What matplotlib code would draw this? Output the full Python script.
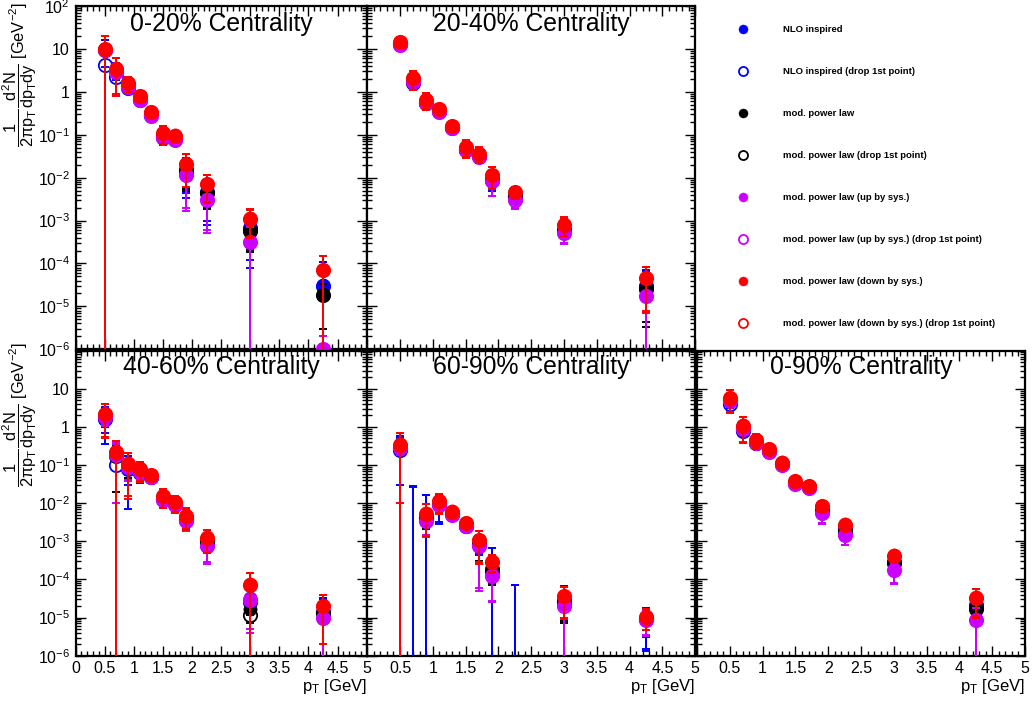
import numpy as np
import matplotlib
matplotlib.use('Agg')
import matplotlib.pyplot as plt
from matplotlib.ticker import MultipleLocator, LogLocator, FixedLocator, FixedFormatter, NullFormatter

plt.rcParams['font.family'] = ['Liberation Sans', 'DejaVu Sans']
plt.rcParams['mathtext.fontset'] = 'custom'
plt.rcParams['mathtext.rm'] = 'Liberation Sans'
plt.rcParams['mathtext.it'] = 'Liberation Sans'
plt.rcParams['mathtext.sf'] = 'Liberation Sans'
plt.rcParams['mathtext.bf'] = 'Liberation Sans:bold'

# pT bin centres [GeV]
pt = [0.5, 0.7, 0.9, 1.1, 1.3, 1.5, 1.7, 1.9, 2.25, 3.0, 4.25]

labels = ['NLO inspired', 'NLO inspired (drop 1st point)',
          'mod. power law', 'mod. power law (drop 1st point)',
          'mod. power law (up by sys.)', 'mod. power law (up by sys.) (drop 1st point)',
          'mod. power law (down by sys.)', 'mod. power law (down by sys.) (drop 1st point)']

nan = float('nan')

# ---- 0-20% ----
nlo_0020 = [9.8, 3.3, 1.5, 0.72, 0.31, 0.10, 0.088, 0.0165, 0.0048, 7.2e-4, 3.1e-5]
nlo_drop_0020 = [4.3, 2.2, 1.24, 0.66, 0.29, 0.088, 0.080, 0.0154, 0.0046, 6.8e-4, 3.0e-5]
pow_0020 = [9.6, 3.2, 1.45, 0.70, 0.30, 0.095, 0.085, 0.0150, 0.0045, 5.9e-4, 1.8e-5]
pow_drop_0020 = [9.5, 3.1, 1.40, 0.68, 0.29, 0.090, 0.082, 0.0145, 0.0044, 5.7e-4, 1.8e-5]
up_0020 = [9.4, 3.0, 1.35, 0.66, 0.28, 0.085, 0.078, 0.0118, 0.0031, 3.2e-4, 1.0e-6]
up_drop_0020 = [9.3, 2.9, 1.32, 0.65, 0.28, 0.084, 0.077, 0.0115, 0.0030, 3.1e-4, 1.0e-6]
down_0020 = [10.0, 3.5, 1.6, 0.79, 0.34, 0.11, 0.096, 0.021, 0.0072, 1.12e-3, 7.0e-5]
down_drop_0020 = [9.9, 3.4, 1.58, 0.78, 0.34, 0.11, 0.095, 0.021, 0.0071, 1.10e-3, 6.9e-5]
err_nlo_0020 = [6.0, 1.4, 0.3, 0.12, 0.05, 0.03, 0.015, 0.012, 0.0038, 6e-4, 8e-5]
err_pow_0020 = [2.0, 0.8, 0.3, 0.12, 0.05, 0.02, 0.012, 0.0097, 0.0025, 3.8e-4, 1.5e-5]
err_up_0020 = [2.0, 0.8, 0.3, 0.12, 0.05, 0.02, 0.012, 0.0098, 0.0025, 4e-4, 1e-6]
err_down_0020 = [10.1, 2.6, 0.6, 0.2, 0.1, 0.05, 0.025, 0.015, 0.0045, 7e-4, 8e-5]

# ---- 20-40% ----
nlo_2040 = [13.5, 1.9, 0.60, 0.36, 0.150, 0.047, 0.033, 0.0098, 0.0039, 6.3e-4, 3.1e-5]
nlo_drop_2040 = [12.7, 1.6, 0.55, 0.35, 0.148, 0.045, 0.032, 0.0090, 0.0037, 6.1e-4, 3.0e-5]
pow_2040 = [13.0, 1.8, 0.58, 0.35, 0.148, 0.046, 0.032, 0.0092, 0.0036, 5.9e-4, 2.7e-5]
pow_drop_2040 = [12.8, 1.7, 0.56, 0.35, 0.147, 0.045, 0.032, 0.0090, 0.0035, 5.8e-4, 2.6e-5]
up_2040 = [12.5, 1.75, 0.56, 0.34, 0.145, 0.044, 0.031, 0.0085, 0.0031, 5.1e-4, 1.7e-5]
up_drop_2040 = [12.4, 1.7, 0.55, 0.34, 0.144, 0.044, 0.031, 0.0084, 0.0030, 5.0e-4, 1.7e-5]
down_2040 = [14.6, 2.08, 0.66, 0.39, 0.164, 0.052, 0.0365, 0.0118, 0.0047, 8.1e-4, 4.6e-5]
down_drop_2040 = [14.4, 2.05, 0.65, 0.39, 0.163, 0.051, 0.036, 0.0116, 0.0046, 8.0e-4, 4.5e-5]
err_nlo_2040 = [2.0, 0.3, 0.08, 0.05, 0.02, 0.012, 0.006, 0.004, 0.001, 1.2e-4, 3.8e-5]
err_pow_2040 = [2.0, 0.3, 0.08, 0.05, 0.02, 0.008, 0.005, 0.0035, 0.0009, 1.2e-4, 2.27e-5]
err_up_2040 = [2.0, 0.3, 0.08, 0.05, 0.02, 0.008, 0.005, 0.0047, 0.0011, 2.1e-4, 2.0e-5]
err_down_2040 = [2.5, 0.95, 0.27, 0.08, 0.03, 0.022, 0.014, 0.0063, 0.0015, 3.7e-4, 3.8e-5]

# ---- 40-60% ----
nlo_4060 = [2.0, 0.20, 0.10, 0.070, 0.052, 0.0135, 0.0098, 0.0040, 0.00105, 3.2e-5, 1.5e-5]
nlo_drop_4060 = [1.65, 0.10, 0.077, 0.063, 0.050, 0.0127, 0.0094, 0.0038, 0.0010, 2.6e-5, 1.4e-5]
pow_4060 = [1.9, 0.19, 0.095, 0.068, 0.050, 0.013, 0.0095, 0.0037, 0.00095, 1.7e-5, 1.3e-5]
pow_drop_4060 = [1.8, 0.17, 0.090, 0.066, 0.050, 0.0128, 0.0093, 0.0036, 0.00093, 1.2e-5, 1.3e-5]
up_4060 = [1.9, 0.19, 0.090, 0.065, 0.049, 0.0125, 0.0090, 0.0035, 7.6e-4, 3.0e-5, 1.0e-5]
up_drop_4060 = [1.85, 0.18, 0.088, 0.064, 0.048, 0.0123, 0.0089, 0.0034, 7.4e-4, 2.9e-5, 1.0e-5]
down_4060 = [2.23, 0.218, 0.11, 0.080, 0.055, 0.0155, 0.0108, 0.0047, 0.00127, 7.4e-5, 2.0e-5]
down_drop_4060 = [2.2, 0.215, 0.108, 0.079, 0.054, 0.0153, 0.0107, 0.0046, 0.00125, 7.3e-5, 2.0e-5]
err_nlo_4060 = [1.3, 0.22, 0.07, 0.03, 0.01, 0.005, 0.003, 0.0015, 5e-4, 5e-5, 1.7e-5]
err_pow_4060 = [0.8, 0.17, 0.05, 0.02, 0.008, 0.004, 0.003, 0.0012, 3e-4, 5e-6, 4e-6]
err_up_4060 = [0.8, 0.18, 0.05, 0.02, 0.008, 0.004, 0.003, 0.0015, 4.8e-4, 2.5e-5, 1.1e-5]
err_down_4060 = [1.7, 0.22, 0.095, 0.042, 0.01, 0.0078, 0.005, 0.0026, 7.5e-4, 7.5e-5, 1.8e-5]

# ---- 60-90% ----  (nan: point not drawn)
nlo_6090 = [0.30, -0.004, 0.0045, 0.0102, 0.0055, 0.0027, 9.0e-4, 2.0e-4, -2.0e-5, 2.9e-5, 9.5e-6]
nlo_drop_6090 = [0.25, -0.005, 0.0042, 0.0098, 0.0052, 0.0026, 8.4e-4, 1.9e-4, -2.0e-5, 2.8e-5, 9.3e-6]
pow_6090 = [0.30, nan, 0.0042, 0.0100, 0.0054, 0.0026, 8.6e-4, 1.8e-4, nan, 2.6e-5, 9.2e-6]
pow_drop_6090 = [0.28, nan, 0.0041, 0.0098, 0.0053, 0.0026, 8.4e-4, 1.7e-4, nan, 2.5e-5, 9.1e-6]
up_6090 = [0.29, nan, 0.0035, 0.0090, 0.0050, 0.0025, 7.7e-4, 1.27e-4, nan, 2.1e-5, 9.0e-6]
up_drop_6090 = [0.28, nan, 0.0034, 0.0089, 0.0049, 0.0025, 7.6e-4, 1.25e-4, nan, 2.0e-5, 8.9e-6]
down_6090 = [0.35, nan, 0.0054, 0.0115, 0.0061, 0.0030, 1.1e-3, 3.0e-4, nan, 3.7e-5, 1.07e-5]
down_drop_6090 = [0.34, nan, 0.0053, 0.0113, 0.0060, 0.0030, 1.08e-3, 2.9e-4, nan, 3.6e-5, 1.05e-5]
err_nlo_6090 = [0.27, 0.032, 0.012, 0.007, 0.0015, 0.0006, 4e-4, 4.6e-4, 9e-5, 3.8e-5, 8e-6]
err_pow_6090 = [0.1, 0.03, 0.002, 0.002, 0.001, 0.0005, 5.5e-4, 1e-4, 3.2e-5, 1.8e-5, 6e-6]
err_up_6090 = [0.1, 0.03, 0.002, 0.002, 0.001, 0.0005, 7.1e-4, 1e-4, 2.3e-5, 2.5e-5, 5.6e-6]
err_down_6090 = [0.34, 0.0096, 0.004, 0.006, 0.0015, 0.0008, 8.2e-4, 1.4e-4, 4.3e-5, 2.7e-5, 5.9e-6]

# ---- 0-90% ----
nlo_0090 = [5.3, 1.0, 0.42, 0.24, 0.110, 0.035, 0.027, 0.0068, 0.0022, 3.0e-4, 2.2e-5]
nlo_drop_0090 = [4.1, 0.79, 0.37, 0.23, 0.106, 0.033, 0.026, 0.0064, 0.0020, 2.9e-4, 2.1e-5]
pow_0090 = [5.2, 0.95, 0.40, 0.23, 0.105, 0.034, 0.026, 0.0062, 0.0019, 2.8e-4, 1.75e-5]
pow_drop_0090 = [5.0, 0.9, 0.39, 0.23, 0.104, 0.033, 0.026, 0.0061, 0.0019, 2.7e-4, 1.7e-5]
up_0090 = [5.0, 0.9, 0.38, 0.22, 0.100, 0.032, 0.025, 0.0058, 0.0015, 1.8e-4, 8.7e-6]
up_drop_0090 = [4.9, 0.88, 0.37, 0.22, 0.099, 0.032, 0.025, 0.0057, 0.0015, 1.75e-4, 8.6e-6]
down_0090 = [5.8, 1.1, 0.46, 0.26, 0.117, 0.039, 0.029, 0.0083, 0.0028, 4.3e-4, 3.4e-5]
down_drop_0090 = [5.7, 1.08, 0.45, 0.26, 0.116, 0.038, 0.029, 0.0082, 0.0027, 4.2e-4, 3.3e-5]
err_nlo_0090 = [1.0, 0.2, 0.05, 0.03, 0.01, 0.004, 0.003, 0.001, 3e-4, 4e-5, 8e-6]
err_pow_0090 = [1.0, 0.2, 0.05, 0.03, 0.01, 0.004, 0.003, 0.001, 3e-4, 4e-5, 6e-6]
err_up_0090 = [1.0, 0.2, 0.05, 0.03, 0.01, 0.004, 0.003, 0.0028, 7e-4, 1e-4, 9e-6]
err_down_0090 = [3.4, 0.7, 0.18, 0.04, 0.015, 0.008, 0.004, 0.0015, 5e-4, 9e-5, 2.3e-5]

BLUE, BLACK, MAG, RED = '#0000ff', '#000000', '#cc00ff', '#ff0000'

W, H = 1032, 706
fig = plt.figure(figsize=(W / 100, H / 100), dpi=100)
fig.patch.set_facecolor('white')


def px_axes(x0, y0, x1, y1):
    return fig.add_axes([x0 / W, 1 - y1 / H, (x1 - x0) / W, (y1 - y0) / H])


decades = [1e-6, 1e-5, 1e-4, 1e-3, 1e-2, 1e-1, 1, 10, 100]
dec_labels = ['$10^{-6}$', '$10^{-5}$', '$10^{-4}$', '$10^{-3}$', '$10^{-2}$',
              '$10^{-1}$', '1', '10', '$10^{2}$']
xt = [0, 0.5, 1, 1.5, 2, 2.5, 3, 3.5, 4, 4.5, 5]
xt_labels = ['0', '0.5', '1', '1.5', '2', '2.5', '3', '3.5', '4', '4.5', '5']


def draw_panel(ax, data, title, ylab, xlab, show_zero, show_top):
    ax.set_yscale('log', nonpositive='clip')
    handles = []
    colors = [BLUE, BLUE, BLACK, BLACK, MAG, MAG, RED, RED]
    z = 2
    for i, (vals, errs) in enumerate(data):
        c = colors[i]
        filled = (i % 2 == 0)
        ax.errorbar(pt, vals, yerr=errs, fmt='none', ecolor=c, elinewidth=1.4,
                    capsize=3, capthick=1.4, zorder=z)
        h, = ax.plot(pt, vals, 'o', ms=9.6, color=c,
                     mfc=c if filled else 'none', mec=c,
                     mew=0.3 if filled else 1.3, zorder=z + 0.5)
        handles.append(h)
        z += 1
    ax.set_xlim(0, 5)
    ax.set_ylim(1e-6, 1e2)
    ax.xaxis.set_major_locator(FixedLocator(xt))
    ax.xaxis.set_minor_locator(MultipleLocator(0.1))
    ax.yaxis.set_major_locator(FixedLocator(decades))
    ax.yaxis.set_minor_locator(LogLocator(base=10, subs=np.arange(2, 10), numticks=50))
    ax.yaxis.set_minor_formatter(NullFormatter())
    if xlab:
        lab = list(xt_labels)
        if not show_zero:
            lab[0] = ''
        ax.xaxis.set_major_formatter(FixedFormatter(lab))
    else:
        ax.xaxis.set_major_formatter(NullFormatter())
    if ylab:
        lab = list(dec_labels)
        if not show_top:
            lab[-1] = ''
        ax.yaxis.set_major_formatter(FixedFormatter(lab))
    else:
        ax.yaxis.set_major_formatter(NullFormatter())
    ax.tick_params(which='both', direction='in', top=True, right=True,
                   width=1.0, labelsize=11.5, color='black')
    ax.tick_params(which='major', length=7, pad=4)
    ax.tick_params(which='minor', length=3.5)
    for s in ax.spines.values():
        s.set_linewidth(1.6)
    ax.text(0.5, 0.948, title, transform=ax.transAxes, ha='center', va='center',
            fontsize=17.8)
    return handles


ax_tl = px_axes(75.5, 6, 366.7, 349.3)
ax_tm = px_axes(367.2, 6, 695.2, 349.3)
ax_bl = px_axes(75.5, 350.7, 366.7, 655.7)
ax_bm = px_axes(367.2, 350.7, 695.2, 655.7)
ax_br = px_axes(697, 350.7, 1025, 655.7)

h = draw_panel(ax_tl, [(nlo_0020, err_nlo_0020), (nlo_drop_0020, err_nlo_0020),
                       (pow_0020, err_pow_0020), (pow_drop_0020, err_pow_0020),
                       (up_0020, err_up_0020), (up_drop_0020, err_up_0020),
                       (down_0020, err_down_0020), (down_drop_0020, err_down_0020)],
               '0-20% Centrality', True, False, True, True)
draw_panel(ax_tm, [(nlo_2040, err_nlo_2040), (nlo_drop_2040, err_nlo_2040),
                   (pow_2040, err_pow_2040), (pow_drop_2040, err_pow_2040),
                   (up_2040, err_up_2040), (up_drop_2040, err_up_2040),
                   (down_2040, err_down_2040), (down_drop_2040, err_down_2040)],
           '20-40% Centrality', False, False, False, False)
draw_panel(ax_bl, [(nlo_4060, err_nlo_4060), (nlo_drop_4060, err_nlo_4060),
                   (pow_4060, err_pow_4060), (pow_drop_4060, err_pow_4060),
                   (up_4060, err_up_4060), (up_drop_4060, err_up_4060),
                   (down_4060, err_down_4060), (down_drop_4060, err_down_4060)],
           '40-60% Centrality', True, True, True, False)
draw_panel(ax_bm, [(nlo_6090, err_nlo_6090), (nlo_drop_6090, err_nlo_6090),
                   (pow_6090, err_pow_6090), (pow_drop_6090, err_pow_6090),
                   (up_6090, err_up_6090), (up_drop_6090, err_up_6090),
                   (down_6090, err_down_6090), (down_drop_6090, err_down_6090)],
           '60-90% Centrality', False, True, False, False)
draw_panel(ax_br, [(nlo_0090, err_nlo_0090), (nlo_drop_0090, err_nlo_0090),
                   (pow_0090, err_pow_0090), (pow_drop_0090, err_pow_0090),
                   (up_0090, err_up_0090), (up_drop_0090, err_up_0090),
                   (down_0090, err_down_0090), (down_drop_0090, err_down_0090)],
           '0-90% Centrality', False, True, False, False)

ytitle = r'$\dfrac{1}{2\pi p_{T}}\dfrac{d^{2}N}{dp_{T}dy}$ [GeV$^{-2}$]'
fig.text(20 / W, 1 - 2 / H, ytitle, rotation=90, ha='center', va='top', fontsize=11.8)
fig.text(20 / W, 1 - 342 / H, ytitle, rotation=90, ha='center', va='top', fontsize=11.8)

for xr in [366.7, 695.2, 1025]:
    fig.text(xr / W, 1 - 686 / H, r'p$_{T}$ [GeV]', ha='right', va='center', fontsize=12)

fig.legend(h, labels, loc='upper left', bbox_to_anchor=(733.6 / W, 1 - 25 / H),
           frameon=False, prop={'size': 6.8, 'weight': 'bold'}, labelspacing=3.5,
           handletextpad=3.25, handlelength=2, borderpad=0, borderaxespad=0,
           markerscale=0.68, numpoints=1)

fig.savefig('out.png', dpi=100, facecolor='white')
